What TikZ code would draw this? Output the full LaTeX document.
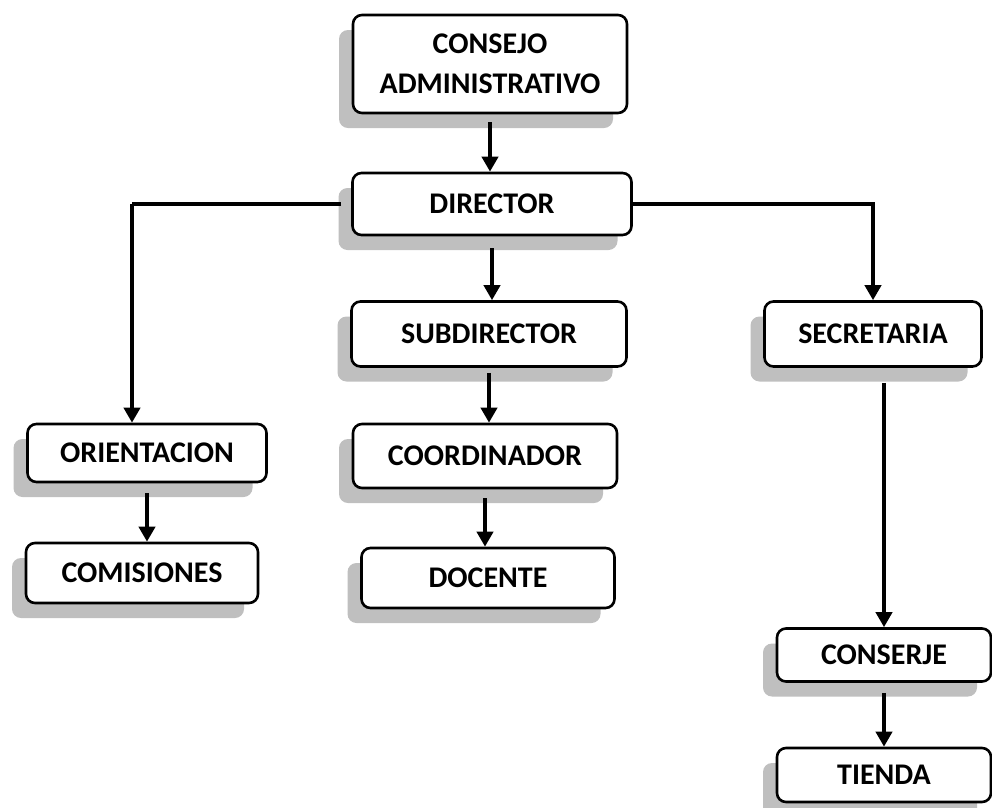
\documentclass[tikz,border=0pt]{standalone}
\usepackage{fontspec}
\setmainfont{Carlito}
\usetikzlibrary{positioning,shadows,arrows.meta}

\begin{document}
\begin{tikzpicture}[x=1pt,y=1pt,
    box/.style = {draw, rounded corners=9pt, line width=2.6pt, fill=white, inner sep=0pt,
      font=\fontsize{30}{40}\selectfont\bfseries, align=center,
      drop shadow={shadow xshift=-14pt, shadow yshift=-15pt, fill=black!25, opacity=1}},
    arrow/.style = {line width=3.8pt, -{Triangle[length=15pt,width=16pt]}},
    link/.style = {line width=3.8pt}]
      \useasboundingbox (0,0) rectangle (992,-807);
      \node[box, minimum width=274pt, minimum height=98pt](consejo) at (490,-64){CONSEJO\\ADMINISTRATIVO};
      \node[box, minimum width=279pt, minimum height=62pt](director) at (492,-204){DIRECTOR};
      \node[box, minimum width=275pt, minimum height=65pt](subdirector) at (489,-334){SUBDIRECTOR};
      \node[box, minimum width=217pt, minimum height=65pt](secretaria) at (873,-334){SECRETARIA};
      \node[box, minimum width=239pt, minimum height=58pt](orientacion) at (147,-453){ORIENTACION};
      \node[box, minimum width=264pt, minimum height=64pt](coordinador) at (485,-456){COORDINADOR};
      \node[box, minimum width=232pt, minimum height=60pt](comisiones) at (142,-573){COMISIONES};
      \node[box, minimum width=253pt, minimum height=60pt](docente) at (488,-578){DOCENTE};
      \node[box, minimum width=214pt, minimum height=53pt](conserje) at (884,-655){CONSERJE};
      \node[box, minimum width=214pt, minimum height=54pt](tienda) at (884,-775){TIENDA};
      \coordinate (lcorner) at (132,-204);
      \draw[arrow, shorten <=8pt] (consejo.south) -- (consejo.south |- director.north);
      \draw[arrow, shorten <=12pt] (director.south) -- (director.south |- subdirector.north);
      \draw[arrow, shorten <=5pt] (subdirector.south) -- (subdirector.south |- coordinador.north);
      \draw[arrow, shorten <=9pt] (coordinador.south) -- (coordinador.south |- docente.north);
      \draw[arrow, shorten <=10pt] (orientacion.south) -- (orientacion.south |- comisiones.north);
      \draw[link, shorten <=10pt] (director.west) -- (lcorner);
      \draw[arrow] (lcorner) -- (lcorner |- orientacion.north);
      \draw[arrow] (director.east) -| (secretaria.north);
      \draw[arrow, shorten <=15pt] (conserje.north |- secretaria.south) -- (conserje.north);
      \draw[arrow, shorten <=10pt] (conserje.south) -- (conserje.south |- tienda.north);
\end{tikzpicture}
\end{document}
